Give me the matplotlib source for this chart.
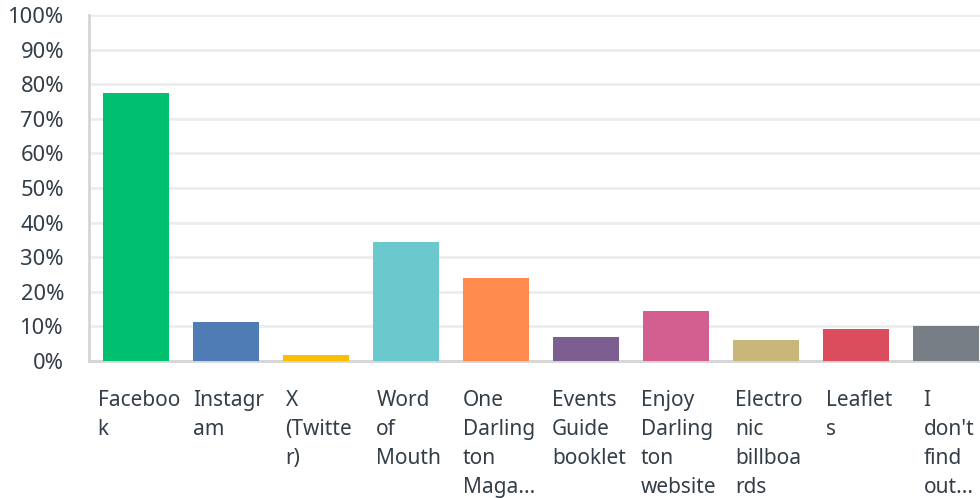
import matplotlib
matplotlib.use("Agg")
import matplotlib.pyplot as plt
import matplotlib.transforms as mtransforms

categories = ["Faceboo\nk", "Instagr\nam", "X\n(Twitte\nr)", "Word\nof\nMouth",
              "One\nDarling\nton\nMaga...", "Events\nGuide\nbooklet",
              "Enjoy\nDarling\nton\nwebsite", "Electro\nnic\nbillboa\nrds",
              "Leaflet\ns", "I\ndon't\nfind\nout..."]
values = [77.5, 11.3, 1.7, 34.4, 24.0, 6.9, 14.5, 6.1, 9.2, 10.1]
colors = ["#00bf6f", "#507cb6", "#f9be00", "#6bc8cd", "#ff8b4f",
          "#7d5e90", "#d25f90", "#c9b77a", "#db4d5c", "#787e86"]
yticks = [0, 10, 20, 30, 40, 50, 60, 70, 80, 90, 100]
ytick_labels = [f"{t}%" for t in yticks]

W, H = 980, 498
fig = plt.figure(figsize=(W / 100, H / 100), dpi=100)
ax = fig.add_axes([89 / W, (H - 361) / H, (W - 89) / W, (361 - 15) / H])

x = list(range(len(categories)))
ax.bar(x, values, width=0.733, color=colors, zorder=3)
ax.set_xlim(-0.52, 9.378)
ax.set_ylim(0, 100)

ax.set_yticks(yticks)
ax.set_yticklabels(ytick_labels, fontsize=15.8, color="#333e48", family="Noto Sans")
ax.tick_params(axis="y", length=0, pad=18)
ax.set_xticks([])
ax.yaxis.grid(True, color="#ececec", linewidth=2, zorder=0)
for s in ["top", "right"]:
    ax.spines[s].set_visible(False)
for s in ["left", "bottom"]:
    ax.spines[s].set_color("#d5d5d5")
    ax.spines[s].set_linewidth(2)

offset = mtransforms.ScaledTranslation(3 / 100, -29 / 100, fig.dpi_scale_trans)
trans = mtransforms.blended_transform_factory(ax.transData, ax.transAxes) + offset
for xi, lab in zip(x, categories):
    ax.text(xi, 0, lab, transform=trans, ha="center", va="top", multialignment="left",
            fontsize=15, color="#333e48", family="Noto Sans", linespacing=1.5,
            clip_on=False)

fig.savefig("out.png", dpi=100)
